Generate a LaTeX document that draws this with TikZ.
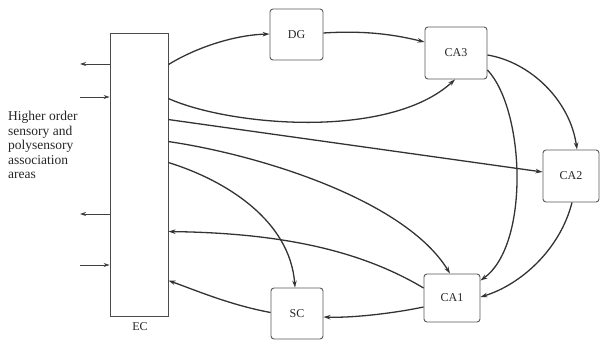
\documentclass[tikz,border=0pt]{standalone}
\usepackage{fontspec}
\setmainfont{Liberation Serif}
\usetikzlibrary{arrows.meta,calc}
\begin{document}
\begin{tikzpicture}[x=1pt,y=-1pt,
  box/.style={draw=black!65,line width=0.9pt,rounded corners=3pt,font=\fontsize{12}{13}\selectfont,text=black!85},
  conn/.style={draw=black!80,line width=1.3pt,-{Stealth[length=7pt,width=4.5pt]}},
  side/.style={draw=black!75,line width=0.9pt,-{Stealth[length=6pt,width=4pt]}}]
\useasboundingbox (0,0) rectangle (600,342);
% nodes
\node[draw=black!70,line width=0.9pt,minimum width=58pt,minimum height=283pt,inner sep=0pt] (EC) at (139,174.5) {};
\node[font=\fontsize{12}{13}\selectfont,text=black!85] (ECl) at (140,327) {EC};
\node[box,minimum width=53pt,minimum height=51pt] (DG) at (296.5,34.5) {DG};
\node[box,minimum width=62pt,minimum height=52pt] (CA3) at (456,53) {CA3};
\node[box,minimum width=56pt,minimum height=52pt] (CA2) at (571,176) {CA2};
\node[box,minimum width=56pt,minimum height=48pt] (CA1) at (452,298) {CA1};
\node[box,minimum width=52pt,minimum height=51pt] (SC) at (297,313.5) {SC};
\node[anchor=north west,align=left,font=\fontsize{13.5}{14.5}\selectfont,text=black!85,inner sep=0pt] (txt) at (8,111)
  {Higher order\\sensory and\\polysensory\\association\\areas};
% side arrows
\coordinate (L1) at (80,64);
\coordinate (L2) at (80,97);
\coordinate (L3) at (80,214);
\coordinate (L4) at (80,265);
\draw[side] (EC.west |- L1) -- (L1);
\draw[side] (L2) -- (EC.west |- L2);
\draw[side] (EC.west |- L3) -- (L3);
\draw[side] (L4) -- (EC.west |- L4);
% connectors
\draw[conn] ($(EC.north east)+(0,32)$) .. controls (197,47) and (235,35) .. ($(DG.west)+(0,-0.5)$);
\draw[conn] ($(DG.east)+(0,-1.5)$) .. controls (370,30) and (400,36) .. ($(CA3.west)+(0,-11)$);
\draw[conn] ($(EC.north east)+(0,66)$) .. controls (230,126) and (389,140) .. ($(CA3.south)+(-1,0)$);
\draw[conn] ($(EC.north east)+(0,87)$) -- ($(CA2.west)+(0,-4)$);
\draw[conn] ($(EC.north east)+(0,109)$) .. controls (260,155) and (405,200) .. ($(CA1.north)+(-2,0)$);
\draw[conn] ($(EC.north east)+(0,130)$) .. controls (225,180) and (290,220) .. ($(SC.north)+(-2,0)$);
\draw[conn] ($(CA1.west)+(0,-10)$) .. controls (360,250) and (280,233) .. ($(EC.north east)+(0,199)$);
\draw[conn] ($(SC.west)+(0,-1)$) .. controls (230,305) and (195,290) .. ($(EC.north east)+(0,248)$);
\draw[conn] ($(CA1.west)+(0,9)$) .. controls (390,314) and (350,318) .. ($(SC.east)+(0,3.5)$);
\draw[conn] ($(CA3.east)+(0,2)$) .. controls (530,62) and (570,100) .. ($(CA2.north)+(6,0)$);
\draw[conn] ($(CA3.east)+(0,17)$) .. controls (525,110) and (530,245) .. ($(CA1.north east)+(0,7)$);
\draw[conn] ($(CA2.south)+(1,0)$) .. controls (560,250) and (520,285) .. ($(CA1.east)+(0,-1)$);
\end{tikzpicture}
\end{document}
